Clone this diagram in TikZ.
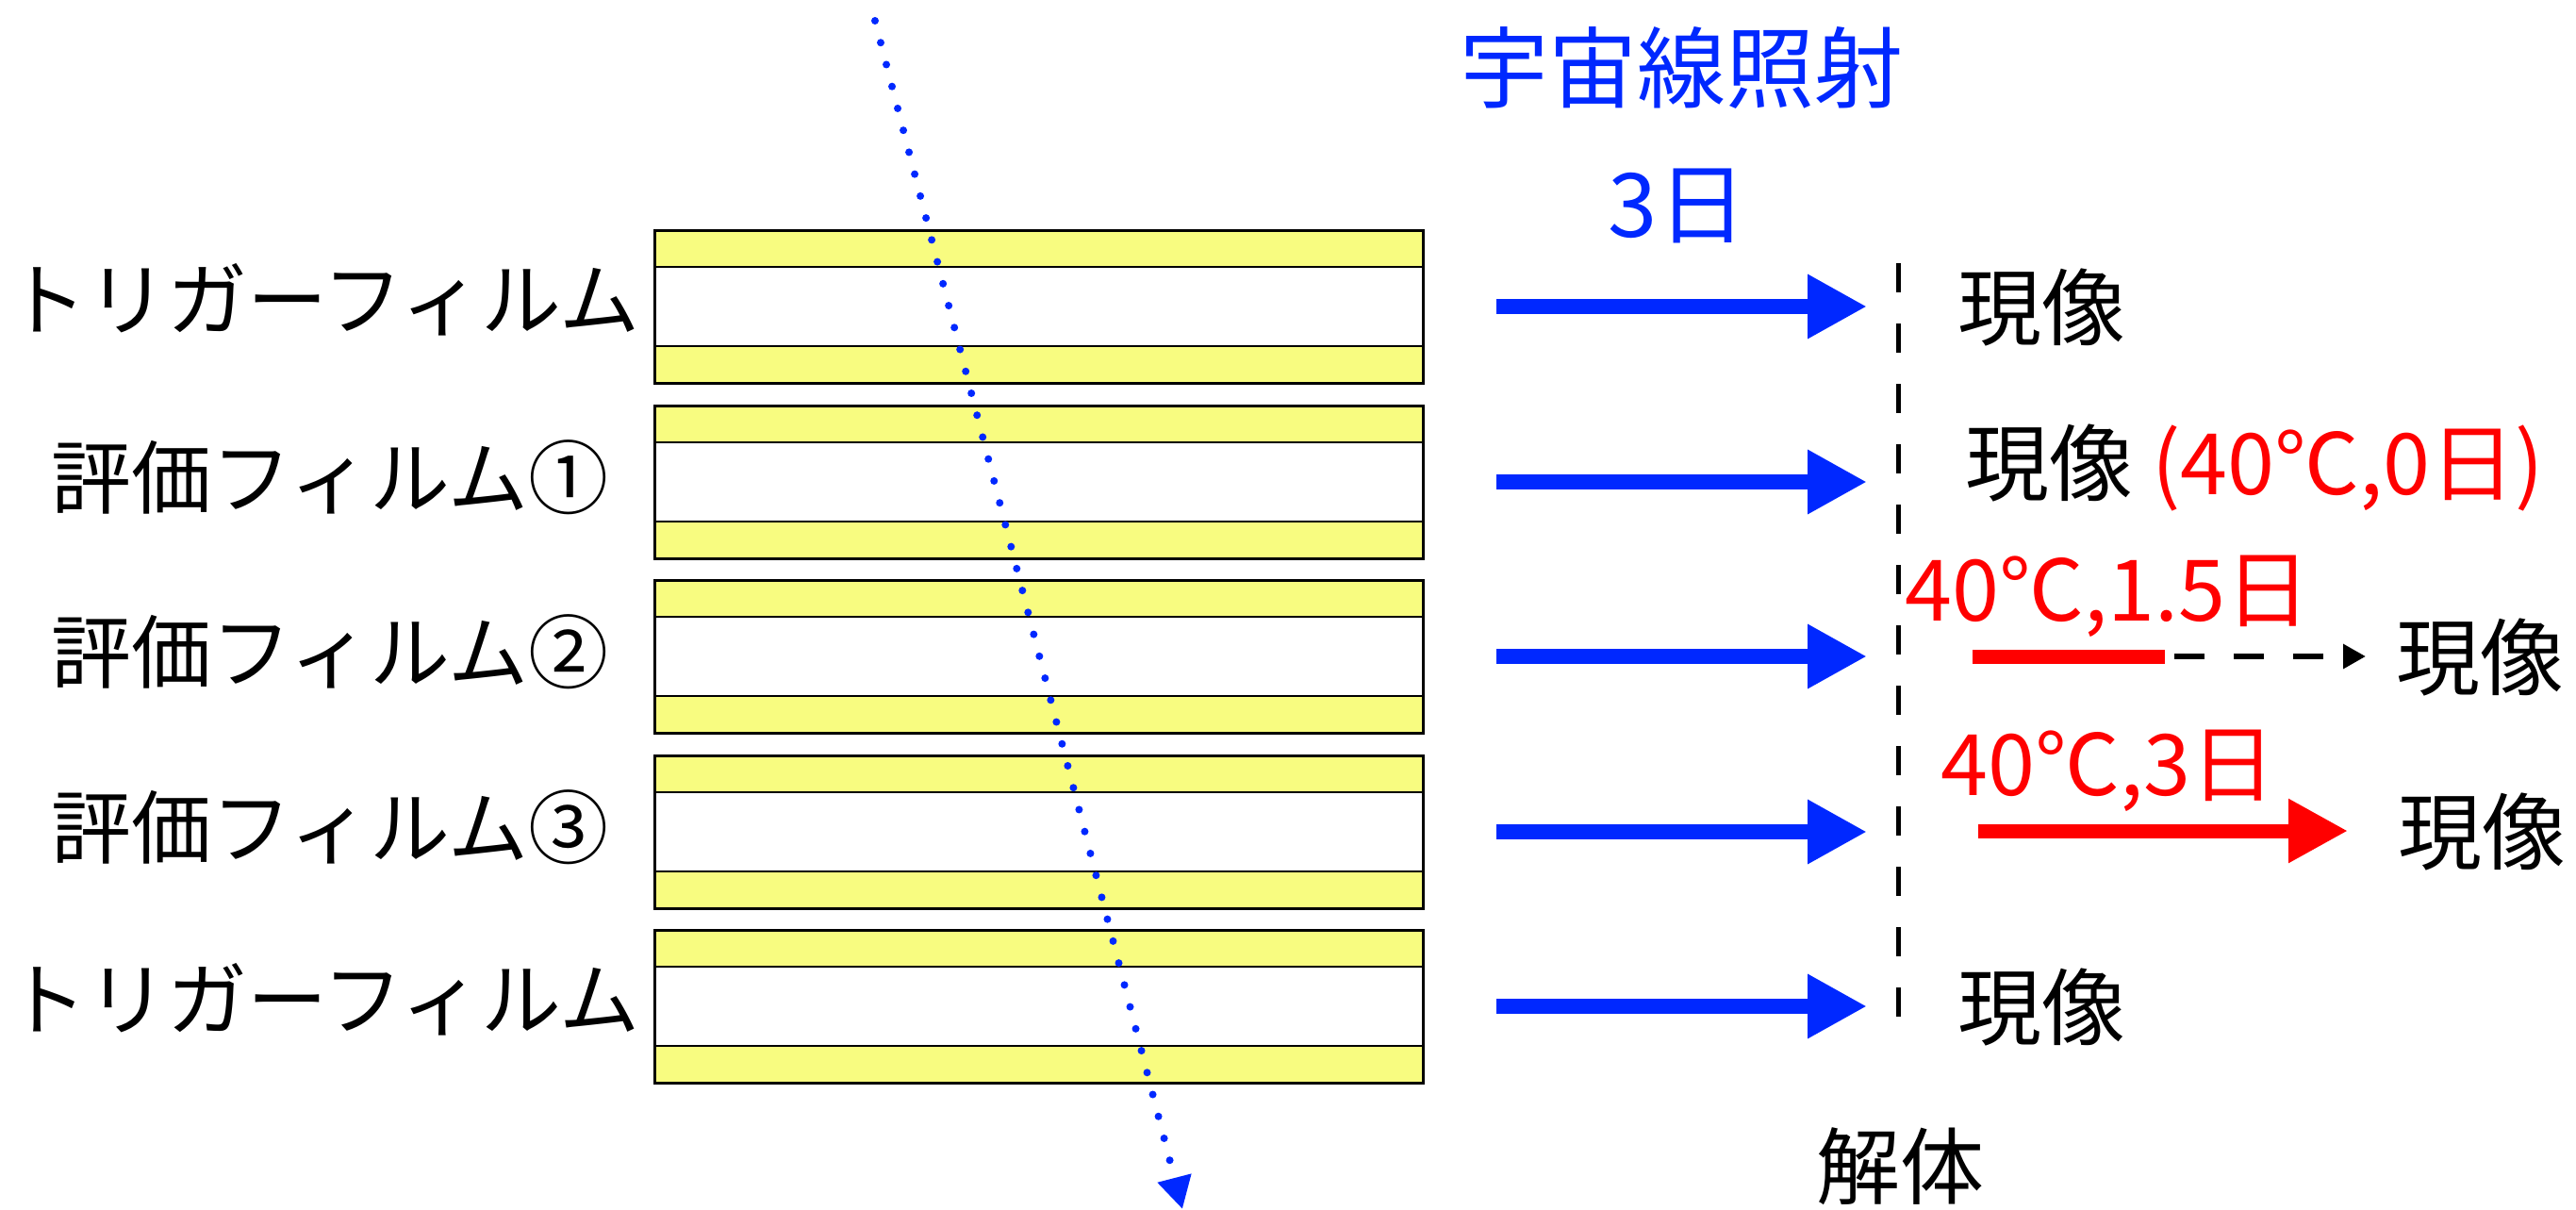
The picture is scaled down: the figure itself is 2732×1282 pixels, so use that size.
\documentclass[tikz,border=0pt]{standalone}
\usepackage{fontspec}
\setmainfont{Noto Sans CJK JP}
\usetikzlibrary{arrows.meta}
\definecolor{filmyellow}{RGB}{248,252,128}
\definecolor{rayblue}{RGB}{0,40,255}
\definecolor{hotred}{RGB}{255,0,0}
\tikzset{
  film/.style={draw=black, line width=3pt, fill=white, minimum width=815pt, minimum height=162pt, inner sep=0pt, outer sep=0pt,
    path picture={
      \fill[filmyellow] (path picture bounding box.north west) rectangle ([yshift=-39pt]path picture bounding box.north east);
      \fill[filmyellow] (path picture bounding box.south west) rectangle ([yshift=39pt]path picture bounding box.south east);
      \draw[line width=2.5pt] ([yshift=-39pt]path picture bounding box.north west) -- ([yshift=-39pt]path picture bounding box.north east);
      \draw[line width=2.5pt] ([yshift=39pt]path picture bounding box.south west) -- ([yshift=39pt]path picture bounding box.south east);
    }},
  lbl/.style={inner sep=0pt, font=\fontsize{85pt}{90pt}\selectfont},
  dev/.style={inner sep=0pt, font=\fontsize{89pt}{94pt}\selectfont},
  big/.style={inner sep=0pt, font=\fontsize{94pt}{100pt}\selectfont, text=rayblue},
  redlbl/.style={inner sep=0pt, font=\fontsize{90pt}{96pt}\selectfont, text=hotred},
  bluearrow/.style={draw=rayblue, line width=16pt, -{Triangle[length=63pt,width=64pt]}},
  redarrow/.style={draw=hotred, line width=15pt, -{Triangle[length=63pt,width=64pt]}},
}
\begin{document}
\begin{tikzpicture}[x=1pt,y=-1pt]
\useasboundingbox (0,0) rectangle (2732,1282);
% films
\foreach \i/\y in {1/325,2/511,3/696,4/882,5/1067}{
  \node[film] (f\i) at (1102,\y) {};
  \coordinate (bs\i) at (1587,\y);
  \coordinate (be\i) at (1980,\y);
  \draw[bluearrow] (bs\i) -- (be\i);
}
% left labels
\node[lbl] (l1) at (343,318) {トリガーフィルム};
\node[lbl] (l2) at (350,506) {評価フィルム①};
\node[lbl] (l3) at (350,691) {評価フィルム②};
\node[lbl] (l4) at (350,877) {評価フィルム③};
\node[lbl] (l5) at (343,1060) {トリガーフィルム};
% top labels
\node[big] (ray) at (1783,72) {宇宙線照射};
\node[big] (days) at (1779,218) {3日};
% dashed separation line
\coordinate (dtop) at (2013,279);
\coordinate (dbot) at (2013,1084);
\draw[line width=5pt, dash pattern=on 31pt off 33pt] (dtop) -- (dbot);
% right labels
\node[dev, anchor=west] (d1) at (2076,326) {現像};
\node[dev, anchor=west] (d2) at (2084,496) {現像 {\fontsize{90pt}{96pt}\selectfont\textcolor{hotred}{(40℃,0日)}}};
\node[redlbl, anchor=west] (t3) at (2020,632) {40℃,1.5日};
\node[dev, anchor=west] (d3) at (2541,697) {現像};
\node[redlbl, anchor=west] (t4) at (2058,817) {40℃,3日};
\node[dev, anchor=west] (d4) at (2543,882) {現像};
\node[dev, anchor=west] (d5) at (2076,1068) {現像};
\node[dev] (dis) at (2015,1237) {解体};
% row 3: heating 1.5 days then dashed
\coordinate (r3a) at (2092,696);
\coordinate (r3b) at (2296,696);
\coordinate (r3c) at (2509,696);
\draw[hotred, line width=15pt] (r3a) -- (r3b);
\draw[line width=6pt, dash pattern=on 32pt off 31pt, dash phase=53pt, -{Triangle[length=24pt,width=25pt]}] (r3b) -- (r3c);
% row 4: heating 3 days
\coordinate (r4a) at (2098,881);
\coordinate (r4b) at (2490,881);
\draw[redarrow] (r4a) -- (r4b);
% cosmic ray track
\coordinate (rtop) at (928,22);
\coordinate (rbot) at (1254,1282);
\draw[rayblue, line width=8pt, line cap=round, dash pattern=on 0pt off 24pt, -{Triangle[length=34pt,width=35pt]}] (rtop) -- (rbot);
\end{tikzpicture}
\end{document}
